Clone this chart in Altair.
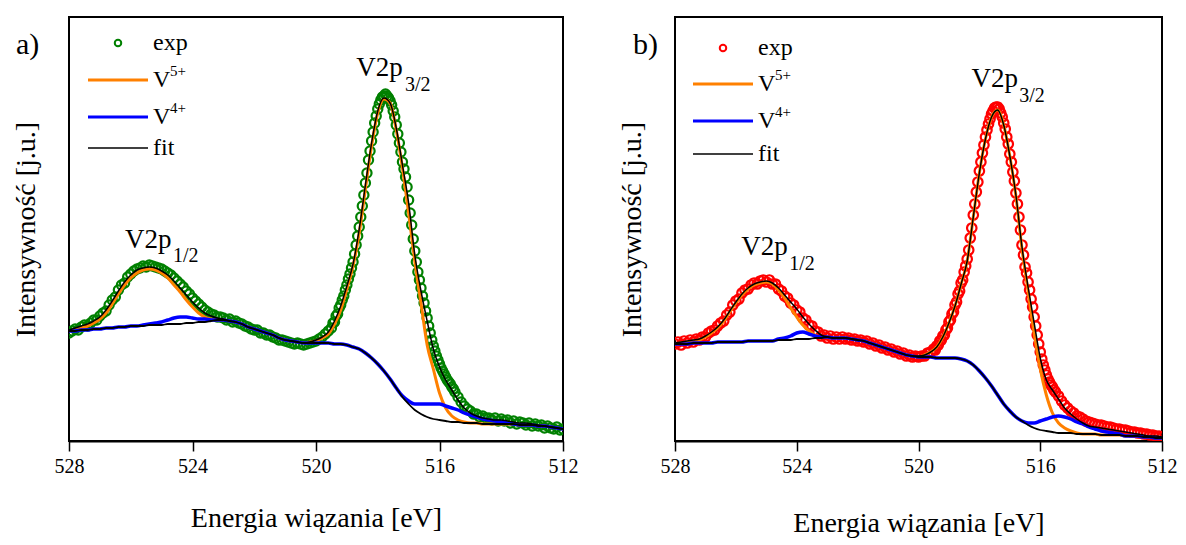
import altair as alt
import pandas as pd

FONT = "'Liberation Serif', 'Times New Roman', serif"

# ---------------- energy grids (eV) ----------------
E_line = [round(528.0 - 0.2 * i, 2) for i in range(81)]
E_exp = ([round(528.0 - 0.1 * i, 2) for i in range(85)]
         + [round(519.5 - 0.05 * i, 2) for i in range(81)]
         + [round(515.4 - 0.1 * i, 2) for i in range(35)])

# ---------------- panel a ----------------
exp_a = [108,110,112,111,114,116,115,118,121,121,
         125,128,130,136,141,144,151,156,158,164,
         167,170,172,173,175,174,176,175,174,173,
         172,170,168,166,163,160,157,154,150,147,
         143,140,137,134,131,129,127,126,124,124,
         123,121,122,119,120,118,117,115,114,112,
         111,111,108,108,106,106,104,103,101,101,
         100,99,98,97,98,97,96,97,98,99,
         100,102,104,107,110,
         113,118,119,125,127,133,136,141,145,151,
         156,162,167,173,179,187,196,205,214,224,
         235,246,258,268,281,290,300,309,318,325,
         332,337,341,344,345,347,345,343,340,336,
         330,324,316,307,298,289,279,272,264,254,
         241,228,216,202,190,179,169,161,153,145,
         138,130,123,115,108,101,95,90,85,81,
         77,73,70,67,64,61,59,57,54,52,
         49,
         44,39,35,32,30,27,27,24,25,23,
         23,21,23,20,22,20,21,18,20,17,
         19,18,16,18,15,17,15,16,13,15,
         13,12,14,11,12]

fit_a = [111,113,115,117,120,124,131,140,150,159,
         166,171,173,174,173,170,166,160,153,146,
         139,133,128,125,123,122,120,119,117,114,
         112,110,108,106,103,101,100,99,98,99,
         101,104,109,120,135,155,177,212,256,298,
         330,343,338,313,276,238,186,150,120,92,
         74,61,51,41,33,28,25,23,22,21,
         21,20,19,18,18,17,16,15,14,13,
         12]

bg_a = [110,110,111,111,112,112,113,113,114,114,
        115,115,115,116,116,116,117,117,117,118,
        118,119,119,120,121,121,120,119,117,114,
        112,110,108,106,103,101,100,99,98,98,
        98,98,98,97,97,96,94,92,88,83,
        77,70,62,53,44,37,31,27,24,22,
        21,20,19,19,18,18,18,17,17,17,
        17,17,17,16,16,16,15,15,14,13,
        12]

v4_a = [110,110,111,111,112,112,113,113,114,114,
        115,115,116,117,118,119,121,123,124,124,
        123,122,122,121,121,121,120,119,117,114,
        112,110,108,106,103,101,100,99,98,98,
        98,98,98,97,97,96,94,92,88,83,
        77,70,62,53,45,40,37,37,37,37,
        37,35,33,31,28,26,24,22,21,20,
        19,18,17,16,16,16,15,15,14,13,
        12]

v5_a = [110,111,113,115,118,122,128,137,147,156,
        163,168,171,172,171,168,163,156,149,141,
        134,128,124,122,121,121,120,119,117,114,
        112,110,108,106,103,101,100,99,98,99,
        100,103,107,117,131,152,175,208,252,295,
        328,342,338,311,273,228,180,138,96,72,
        48,33,25,21,19,18,18,17,17,17,
        17,17,17,16,16,16,15,15,14,13,
        12]

# ---------------- panel b ----------------
exp_b = [97,99,96,100,98,101,99,102,101,104,
         104,108,110,111,115,118,120,126,129,136,
         140,142,148,151,152,156,158,157,160,161,
         159,161,157,157,152,150,145,143,138,136,
         131,129,123,121,116,115,110,109,105,106,
         103,105,102,104,102,104,102,103,101,102,
         100,101,99,100,97,98,95,96,93,94,
         91,92,89,90,87,88,85,86,84,85,
         84,85,85,88,89,
         92,91,95,96,100,101,105,106,111,113,119,
         121,127,129,136,139,147,150,158,161,169,
         175,182,191,203,213,226,237,249,259,270,
         279,288,296,304,311,317,322,327,330,333,
         334,334,332,328,324,318,312,304,297,287,
         279,269,260,248,237,224,211,196,186,174,
         168,159,151,142,134,124,115,106,97,89,
         82,76,71,66,62,59,56,54,51,49,
         45,40,36,33,30,28,25,24,22,20,
         19,18,17,16,16,15,14,14,13,12,
         12,11,11,10,9,9,8,8,7,7,
         6,6,5,5,4]

fit_b = [98,99,100,101,102,105,109,114,121,130,
         139,147,153,157,159,160,158,153,146,139,
         132,124,117,111,106,104,103,103,103,102,
         101,100,98,96,94,92,90,88,86,85,
         85,86,89,94,104,118,135,157,180,224,
         268,302,324,331,316,285,246,194,154,118,
         83,61,51,42,33,27,22,18,15,14,
         13,12,11,10,9,8,7,6,5,5,
         4]

bg_b = [97,97,97,98,98,98,98,99,99,99,
        99,99,100,100,100,100,100,101,101,101,
        102,102,102,103,103,104,103,103,103,102,
        101,100,98,96,94,92,90,88,86,85,
        84,84,84,83,83,83,83,82,80,76,
        70,63,55,46,37,30,24,20,16,13,
        11,10,9,8,8,8,7,7,7,7,
        6,6,6,6,5,5,5,4,4,3,
        3]

v4_b = [97,97,97,98,98,98,98,99,99,99,
        99,99,100,100,100,100,100,102,103,105,
        108,109,107,105,104,104,103,103,103,102,
        101,100,98,96,94,92,90,88,86,85,
        84,84,84,83,83,83,83,82,80,76,
        70,63,55,46,37,30,24,20,18,18,
        20,22,24,25,24,22,19,17,14,12,
        10,9,8,7,5,5,5,4,4,3,
        3]

v5_b = [97,98,99,100,101,104,108,113,120,129,
        138,146,152,156,158,159,157,151,143,133,
        124,116,110,106,104,104,103,103,103,102,
        101,100,98,96,94,92,90,88,86,85,
        84,86,89,94,104,118,135,157,180,224,
        268,302,324,331,316,285,245,192,150,108,
        72,46,28,18,13,10,8,7,7,7,
        6,6,6,6,5,5,5,4,4,3,
        3]

# ---------------- texts ----------------
x_ticks = [528, 524, 520, 516, 512]
x_title = "Energia wiązania [eV]"
y_title = "Intensywność [j.u.]"
legend_labels = ["exp", "V", "V", "fit"]
legend_sups = ["5+", "4+"]

# peak annotations: (E, I, text)
ann_a_main = {"E": [518.70, 526.19], "I": [365, 193], "t": ["V2p", "V2p"]}
ann_a_sub = {"E": [517.12, 524.63], "I": [350, 179], "t": ["3/2", "1/2"]}
ann_b_main = {"E": [518.26, 525.82], "I": [354, 186], "t": ["V2p", "V2p"]}
ann_b_sub = {"E": [516.69, 524.25], "I": [339, 171], "t": ["3/2", "1/2"]}

ORANGE = "#ff8000"
BLUE = "#0000ff"


def panel(W, exp_y, fit, bg, v4, v5, color, psize, ann_main, ann_sub, tag, tagx,
          leg, xtitle_pad):
    exp_df = pd.DataFrame({"E": E_exp, "I": exp_y})
    line_df = pd.DataFrame({"E": E_line, "fit": fit, "bg": bg, "v4": v4, "v5": v5})
    xsc = alt.Scale(domain=[512, 528], reverse=True, nice=False, zero=False)
    ysc = alt.Scale(domain=[0, 424], nice=False, zero=False)
    xax = alt.Axis(values=x_ticks, format="d", title=x_title, grid=False,
                   tickSize=10, labelPadding=5, titlePadding=xtitle_pad,
                   domainWidth=2, labelFlush=False,
                   labelFont=FONT, titleFont=FONT, labelFontSize=20,
                   titleFontSize=28, titleFontWeight="normal")
    yax = alt.Axis(labels=False, ticks=False, grid=False, domain=False,
                   title=y_title, titlePadding=29,
                   titleFont=FONT, titleFontSize=28, titleFontWeight="normal")

    def X(f):
        return alt.X(f"{f}:Q", scale=xsc, axis=xax)

    def Y(f):
        return alt.Y(f"{f}:Q", scale=ysc, axis=yax)

    pts = alt.Chart(exp_df).mark_point(
        shape="circle", filled=False, size=psize, strokeWidth=2.2, color=color,
        opacity=1, clip=True
    ).encode(x=X("E"), y=Y("I"))

    def ln(col, c, w):
        return alt.Chart(line_df).mark_line(
            color=c, strokeWidth=w, interpolate="monotone", clip=True
        ).encode(x=X("E"), y=Y(col))

    layers = [pts, ln("v5", ORANGE, 3), ln("v4", BLUE, 3.5),
              ln("bg", "black", 1.8), ln("fit", "black", 1.5)]

    am = pd.DataFrame(ann_main)
    asub = pd.DataFrame(ann_sub)
    layers.append(alt.Chart(am).mark_text(
        font=FONT, fontSize=27, align="left", baseline="alphabetic", color="black"
    ).encode(x=X("E"), y=Y("I"), text="t:N"))
    layers.append(alt.Chart(asub).mark_text(
        font=FONT, fontSize=20, align="left", baseline="alphabetic", color="black"
    ).encode(x=X("E"), y=Y("I"), text="t:N"))

    one = pd.DataFrame({"k": [0]})
    # panel tag
    layers.append(alt.Chart(one).mark_text(
        text=tag, font=FONT, fontSize=30, align="left", baseline="alphabetic",
        color="black"
    ).encode(x=alt.value(tagx), y=alt.value(37)))

    # legend
    cx, cy, lx0, lx1, tx, ys = leg
    layers.append(alt.Chart(one).mark_point(
        shape="circle", filled=False, size=42, strokeWidth=2, color=color, opacity=1
    ).encode(x=alt.value(cx), y=alt.value(cy)))
    for (yy, c, w) in zip(ys, [ORANGE, BLUE, "black"], [3, 3, 1.5]):
        layers.append(alt.Chart(one).mark_rule(color=c, strokeWidth=w).encode(
            x=alt.value(lx0), x2=alt.value(lx1), y=alt.value(yy)))
    for lab, yy in zip(legend_labels, [cy] + list(ys)):
        layers.append(alt.Chart(one).mark_text(
            text=lab, font=FONT, fontSize=24, align="left", baseline="middle",
            color="black"
        ).encode(x=alt.value(tx), y=alt.value(yy)))
    for sup, yy in zip(legend_sups, ys[:2]):
        layers.append(alt.Chart(one).mark_text(
            text=sup, font=FONT, fontSize=15, align="left", baseline="middle",
            color="black"
        ).encode(x=alt.value(tx + 17), y=alt.value(yy - 9)))

    return alt.layer(*layers).properties(width=W, height=424)


pa = panel(494, exp_a, fit_a, bg_a, v4_a, v5_a, "#008000", 85,
           ann_a_main, ann_a_sub, "a)", -53,
           (49, 26, 19, 79, 84, (63, 100, 131)), 28)
pb = panel(487, exp_b, fit_b, bg_b, v4_b, v5_b, "#ff0000", 90,
           ann_b_main, ann_b_sub, "b)", -42,
           (48, 31, 18, 78, 83, (67, 104, 137)), 33)

chart = alt.hconcat(pa, pb, spacing=38).properties(
    padding={"left": 3, "top": 8, "right": 0, "bottom": 0},
    background="white",
).configure_view(
    stroke="black", strokeWidth=2
).configure_axis(
    labelFont=FONT, titleFont=FONT, labelFontSize=20, titleFontSize=28,
    titleFontWeight="normal", labelColor="black", titleColor="black",
    domainColor="black", tickColor="black", tickWidth=1.5
)

chart.save("out.html", embed_options={"renderer": "svg", "actions": False})
